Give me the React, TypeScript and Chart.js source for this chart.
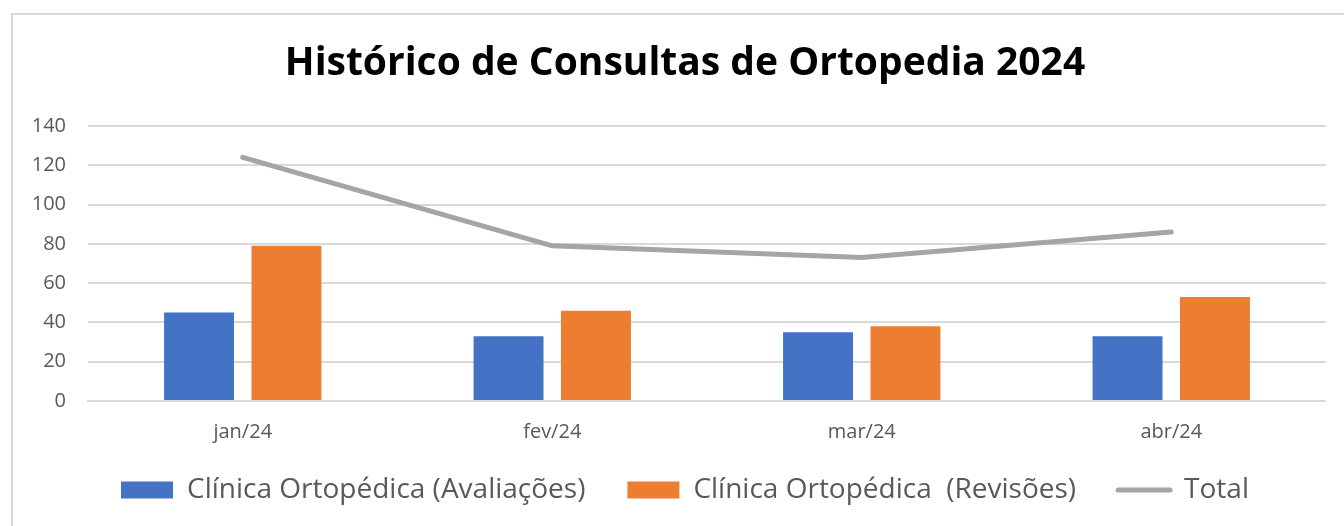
import React, { useEffect, useRef } from "react";
import { Chart, registerables } from "chart.js";

Chart.register(...registerables);

const categories = ["jan/24", "fev/24", "mar/24", "abr/24"];
const avaliacoes = [45, 33, 35, 33];
const revisoes = [79, 46, 38, 53];
const total = [124, 79, 73, 86];
const seriesNames = ["Clínica Ortopédica (Avaliações)", "Clínica Ortopédica  (Revisões)", "Total"];
const titleText = "Histórico de Consultas de Ortopedia 2024";

const BLUE = "#4472C4";
const ORANGE = "#ED7D31";
const GRAY = "#A5A5A5";
const TEXT = "#595959";
const GRID = "#D9D9D9";
const FONT = "'Open Sans'";

export default function App() {
  const ref = useRef<HTMLCanvasElement | null>(null);
  useEffect(() => {
    if (!ref.current) return;
    const chart = new Chart(ref.current, {
      type: "bar",
      data: {
        labels: categories,
        datasets: [
          { type: "bar", label: seriesNames[0], data: avaliacoes, backgroundColor: BLUE, order: 1, categoryPercentage: 0.565, barPercentage: 0.8 },
          { type: "bar", label: seriesNames[1], data: revisoes, backgroundColor: ORANGE, order: 1, categoryPercentage: 0.565, barPercentage: 0.8 },
          { type: "line", label: seriesNames[2], data: total, borderColor: GRAY, backgroundColor: GRAY, borderWidth: 5, pointRadius: 0, borderCapStyle: "round", borderJoinStyle: "round", order: 0, tension: 0 },
        ],
      } as any,
      options: {
        animation: false,
        responsive: false,
        maintainAspectRatio: false,
        layout: { padding: { left: 44, right: 0, top: 0, bottom: 12 } },
        plugins: {
          title: {
            display: true,
            text: titleText,
            color: "#000000",
            font: { family: FONT, size: 39, weight: "bold", lineHeight: 1.2 },
            padding: { top: 40.4, bottom: 38.8 },
          },
          legend: {
            position: "bottom",
            sort: (a: any, b: any) => a.datasetIndex - b.datasetIndex,
            labels: {
              color: TEXT,
              font: { family: FONT, size: 28 },
              usePointStyle: true,
              pointStyleWidth: 52,
              boxHeight: 17,
              padding: 42,
              generateLabels: (c: any) =>
                c.data.datasets.map((ds: any, i: number) => ({
                  text: ds.label,
                  datasetIndex: i,
                  fillStyle: i === 2 ? GRAY : ds.backgroundColor,
                  strokeStyle: i === 2 ? GRAY : ds.backgroundColor,
                  lineWidth: i === 2 ? 5 : 0,
                  lineCap: "round",
                  pointStyle: i === 2 ? "line" : "rect",
                  fontColor: TEXT,
                  hidden: false,
                })),
            },
          },
          tooltip: { enabled: false },
        },
        scales: {
          x: {
            grid: { display: false, drawTicks: false },
            border: { display: true, color: GRID, width: 2 },
            ticks: { color: TEXT, font: { family: FONT, size: 20 }, padding: 19 },
            afterFit: (s: any) => {
              s.height = 33;
              s._computeLabelArea = () => undefined;
            },
          },
          y: {
            min: 0,
            max: 140,
            ticks: { stepSize: 20, color: TEXT, font: { family: FONT, size: 20 }, padding: 22 },
            grid: { color: GRID, lineWidth: 2, drawTicks: false },
            border: { display: false },
            afterFit: (s: any) => {
              s.width = 44;
              s._computeLabelArea = () => undefined;
            },
          },
        },
      } as any,
    });
    return () => chart.destroy();
  }, []);

  return (
    <div style={{ position: "fixed", left: 0, top: 0, width: 1344, height: 526, overflow: "hidden", background: "#fff" }}>
      <div style={{ position: "absolute", left: 11, top: 13, width: 1400, height: 600, border: "2px solid #D9D9D9" }} />
      <canvas ref={ref} width={1326} height={526} style={{ position: "absolute", left: 0, top: 0 }} />
    </div>
  );
}
